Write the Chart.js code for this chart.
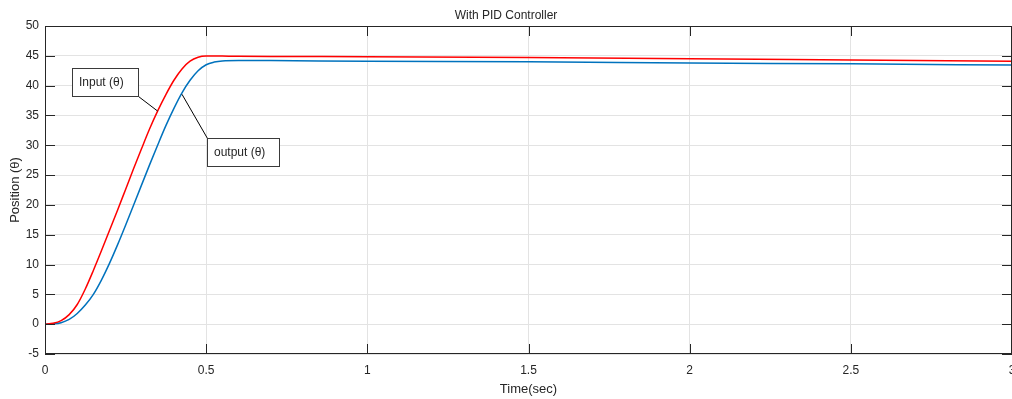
<!DOCTYPE html>
<html>
<head>
<meta charset="utf-8">
<script src="https://cdn.jsdelivr.net/npm/chart.js@4.4.1/dist/chart.umd.min.js"></script>
<style>
  body { margin: 0; background: #fff; }
  canvas { display: block; }
</style>
</head>
<body>
<canvas id="chart" width="1012" height="399"></canvas>
<script>
// time samples (sec)
let timeValues = [0, 0.025, 0.05, 0.075, 0.1, 0.125, 0.15, 0.175, 0.2, 0.225, 0.25, 0.275, 0.3, 0.325,
  0.35, 0.375, 0.4, 0.425, 0.45, 0.475, 0.5, 0.525, 0.55, 0.6, 0.7, 1.0, 1.5, 2.0, 2.5, 3.0];
// input (theta), red
let inputValues = [0, 0.15, 0.6, 1.6, 3.3, 5.9, 9.0, 12.3, 15.7, 19.1, 22.6, 26.1, 29.5, 32.8,
  35.8, 38.5, 40.9, 42.8, 44.1, 44.75, 44.95, 44.96, 44.95, 44.93, 44.9, 44.85, 44.72, 44.5, 44.3, 44.1];
// output (theta), blue
let outputValues = [0, 0.05, 0.25, 0.8, 1.8, 3.2, 5.0, 7.4, 10.2, 13.3, 16.6, 20.0, 23.4, 26.8,
  30.1, 33.3, 36.2, 38.8, 40.9, 42.5, 43.5, 43.95, 44.15, 44.22, 44.2, 44.1, 44.0, 43.8, 43.65, 43.45];

let xTicks = [0, 0.5, 1, 1.5, 2, 2.5, 3];
let yTicks = [-5, 0, 5, 10, 15, 20, 25, 30, 35, 40, 45, 50];

let fontName = "'Liberation Sans', Arial, Helvetica, sans-serif";
let darkGray = "#262626";

// text boxes with leader lines (box corner in data units, box size in px)
let notes = [
  { text: "Input (\u03b8)", boxX: 0.083, boxY: 43.0, w: 66, h: 28, from: "bottomRight", tipX: 0.349, tipY: 35.75 },
  { text: "output (\u03b8)", boxX: 0.5027, boxY: 31.17, w: 72, h: 28, from: "topLeft", tipX: 0.425, tipY: 38.55 },
];

function toPoints(xs, ys) {
  let pts = [];
  for (let i = 0; i < xs.length; i++) {
    pts.push({ x: xs[i], y: ys[i] });
  }
  return pts;
}

let boxPlugin = {
  id: "matlabBox",
  afterDatasetsDraw(chart) {
    let ctx = chart.ctx;
    let a = chart.chartArea;
    let xs = chart.scales.x;
    let ys = chart.scales.y;
    ctx.save();
    // axes box
    ctx.strokeStyle = darkGray;
    ctx.lineWidth = 1;
    ctx.strokeRect(a.left + 0.5, a.top + 0.5, a.right - a.left - 1, a.bottom - a.top - 1);
    // inward ticks
    ctx.beginPath();
    xTicks.forEach((t) => {
      let px = Math.round(xs.getPixelForValue(t)) + 0.5;
      ctx.moveTo(px, a.bottom);
      ctx.lineTo(px, a.bottom - 10);
      ctx.moveTo(px, a.top);
      ctx.lineTo(px, a.top + 10);
    });
    yTicks.forEach((t) => {
      let py = Math.round(ys.getPixelForValue(t)) + 0.5;
      ctx.moveTo(a.left, py);
      ctx.lineTo(a.left + 10, py);
      ctx.moveTo(a.right, py);
      ctx.lineTo(a.right - 10, py);
    });
    ctx.stroke();

    // annotations
    notes.forEach((n) => {
      let bx = Math.round(xs.getPixelForValue(n.boxX)) + 0.5;
      let by = Math.round(ys.getPixelForValue(n.boxY)) + 0.5;
      let tx = xs.getPixelForValue(n.tipX);
      let ty = ys.getPixelForValue(n.tipY);
      let sx = n.from === "bottomRight" ? bx + n.w : bx;
      let sy = n.from === "bottomRight" ? by + n.h : by;
      ctx.strokeStyle = "#000";
      ctx.lineWidth = 1;
      ctx.beginPath();
      ctx.moveTo(sx, sy);
      ctx.lineTo(tx, ty);
      ctx.stroke();
      ctx.fillStyle = "#fff";
      ctx.fillRect(bx, by, n.w, n.h);
      ctx.strokeStyle = "#3a3a3a";
      ctx.strokeRect(bx, by, n.w, n.h);
      ctx.fillStyle = darkGray;
      ctx.font = "12px " + fontName;
      ctx.textBaseline = "middle";
      ctx.textAlign = "left";
      ctx.fillText(n.text, bx + 6.5, by + n.h / 2);
    });
    ctx.restore();
  },
};

function renderChart() {
  const chart = document.getElementById("chart");
  Chart.defaults.font.family = fontName;
  Chart.defaults.color = darkGray;
  new Chart(chart, {
    type: "line",
    data: {
      datasets: [
        {
          label: "Input",
          data: toPoints(timeValues, inputValues),
          borderColor: "#ff0000",
          borderWidth: 1.5,
          pointRadius: 0,
          cubicInterpolationMode: "monotone",
          fill: false,
        },
        {
          label: "Output",
          data: toPoints(timeValues, outputValues),
          borderColor: "#0072bd",
          borderWidth: 1.5,
          pointRadius: 0,
          cubicInterpolationMode: "monotone",
          fill: false,
        },
      ],
    },
    options: {
      responsive: false,
      animation: false,
      layout: { padding: 0 },
      plugins: {
        legend: { display: false },
        tooltip: { enabled: false },
        title: {
          display: true,
          text: "With PID Controller",
          color: darkGray,
          font: { size: 12, weight: "normal" },
          padding: { top: 8, bottom: 3.6 },
        },
      },
      scales: {
        x: {
          type: "linear",
          min: 0,
          max: 3,
          afterBuildTicks: (scale) => {
            scale.ticks = xTicks.map((v) => ({ value: v }));
          },
          afterFit: (scale) => {
            scale.height = 45;
            scale.paddingLeft = 0;
            scale.paddingRight = 0;
          },
          ticks: {
            font: { size: 12 },
            padding: 9,
            maxRotation: 0,
            autoSkip: false,
            callback: (value) => String(value),
          },
          grid: { color: "#e3e3e3", drawTicks: false },
          border: { display: false },
          title: {
            display: true,
            text: "Time(sec)",
            font: { size: 13 },
            padding: { top: 0, bottom: 2.2 },
          },
        },
        y: {
          min: -5,
          max: 50,
          afterBuildTicks: (scale) => {
            scale.ticks = yTicks.map((v) => ({ value: v }));
          },
          afterFit: (scale) => {
            scale.width = 45;
            scale.paddingTop = 0;
            scale.paddingBottom = 0;
          },
          ticks: {
            font: { size: 12 },
            padding: 6,
            autoSkip: false,
            callback: (value) => String(value),
          },
          grid: { color: "#e3e3e3", drawTicks: false },
          border: { display: false },
          title: {
            display: true,
            text: "Position (\u03b8)",
            font: { size: 13 },
            padding: { top: 8, bottom: 0 },
          },
        },
      },
    },
    plugins: [boxPlugin],
  });
}

renderChart();
</script>
</body>
</html>
